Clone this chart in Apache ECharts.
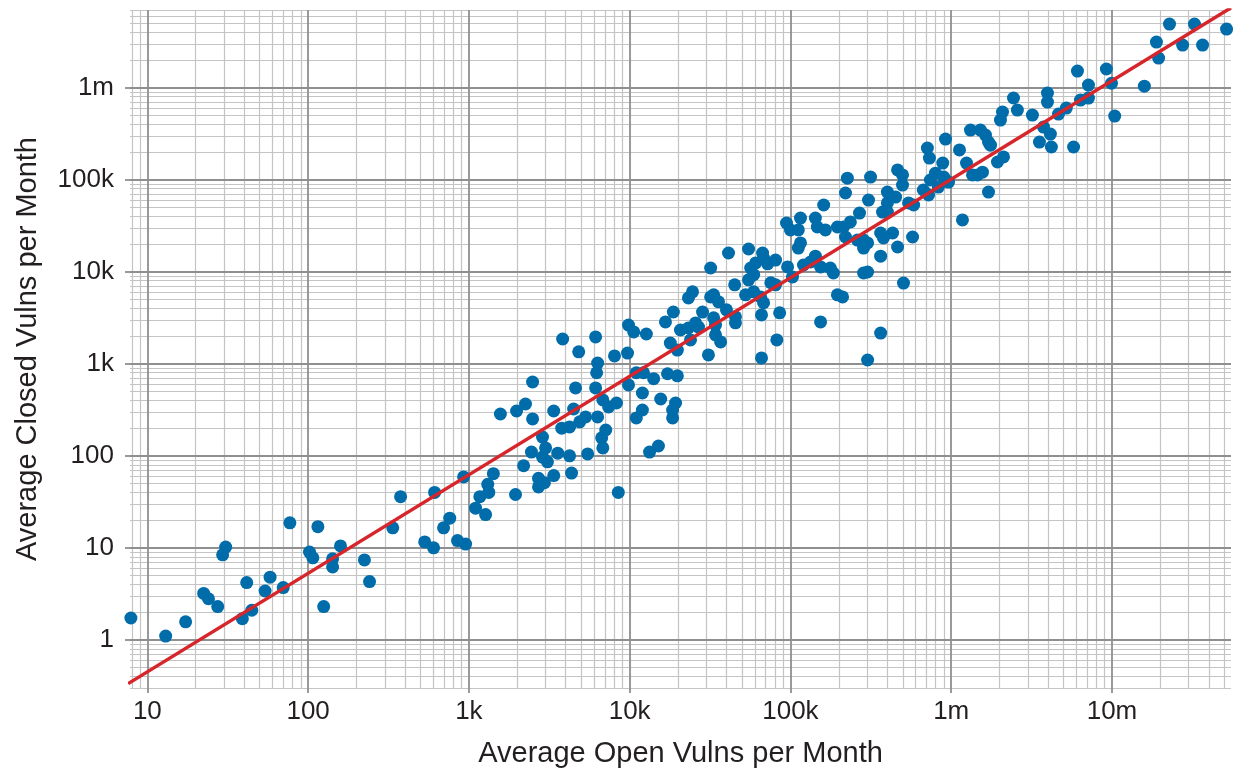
<!DOCTYPE html>
<html>
  <head>
    <title>Open vs Closed Vulns</title>
    <meta charset="UTF-8" />
    <script src="https://cdn.jsdelivr.net/npm/echarts@6/dist/echarts.min.js"></script>
    <style>
      html, body { margin: 0; padding: 0; background: #fff; }
    </style>
  </head>
  <body>
    <div id="main"></div>
    <script>
      const width = 1233;
      const height = 771;
      const main = document.getElementById('main');
      main.style.width = `${width}px`;
      main.style.height = `${height}px`;

      // [average open vulns, average closed vulns] per org
      const pointsUnder1k = [
        [7.9, 1.73], [13, 1.1], [17.3, 1.57], [22.4, 3.2], [24, 2.8], [27.4, 2.3], [29.4, 8.4],
        [30.7, 10.2], [39, 1.7], [41.5, 4.2], [44.6, 2.1], [54, 3.4], [58, 4.8], [70, 3.7],
        [77, 18.7], [102, 9], [107, 7.8], [115, 17], [125, 2.3], [142, 7.6], [142, 6.2],
        [159, 10.5], [224, 7.4], [241, 4.3], [336, 16.5], [376, 36], [531, 11.6], [603, 10],
        [612, 40], [696, 16.5], [760, 21], [850, 12], [954, 11], [927, 59]
      ];
      const points1kTo10k = [
        [1100, 27], [1170, 36], [1270, 23], [1310, 49], [1330, 40], [1420, 64], [1570, 285],
        [1950, 38], [1980, 307], [2190, 78], [2250, 366], [2450, 110], [2490, 252], [2490, 635],
        [2710, 57], [2710, 46], [2870, 160], [2950, 51], [3000, 122], [2870, 97], [3080, 86],
        [3370, 61], [3570, 107], [3370, 307], [3830, 1860], [3780, 200], [4230, 100], [4350, 65],
        [4230, 206], [4480, 323], [4610, 547], [4820, 1350], [4890, 234], [5320, 265], [5480, 105],
        [6140, 1960], [6230, 800], [6320, 1020], [6140, 547], [6320, 265], [6700, 157], [6810, 122],
        [7100, 191], [6810, 405], [7400, 340], [8280, 375], [8050, 1220], [8500, 40], [9700, 1310],
        [9840, 590], [9840, 2640]
      ];
      const points10kTo100k = [
        [10600, 2220], [11000, 800], [11000, 258], [12000, 315], [12000, 482], [12700, 2110],
        [12200, 800], [13300, 110], [15100, 128], [14100, 690], [15600, 415], [16700, 2850],
        [17900, 1680], [17200, 780], [19800, 740], [19300, 375], [18500, 315], [18500, 258],
        [18700, 3660], [20700, 2330], [19800, 1410], [23200, 2450], [25700, 2780], [26800, 2510],
        [23900, 1820], [23200, 5200], [24600, 6060], [28400, 3650], [31900, 11000], [30900, 1250],
        [31900, 5340], [33300, 5620], [33300, 3160], [34200, 2640], [34200, 2060], [36800, 1730],
        [35700, 4720], [40000, 3860], [41200, 16000], [45000, 7220], [45500, 3240], [45500, 2790],
        [54900, 17700], [56600, 11000], [59100, 9300], [60800, 12500], [67100, 16000],
        [68100, 14100], [72100, 12200], [80800, 13400], [54900, 8180], [52600, 5620],
        [59100, 6060], [65300, 5340], [68100, 4610], [75500, 7600], [80800, 7220], [66100, 3400],
        [85700, 3580], [82300, 1820], [66100, 1160], [94500, 33900], [96000, 11300]
      ];
      const points100kTo1m = [
        [100000, 28500], [115500, 38400], [112000, 28500], [103000, 8780], [115500, 20600],
        [112000, 18100], [120600, 11850], [133400, 12800], [143000, 38400], [147000, 30700],
        [143000, 14800], [154000, 2850], [161000, 53200], [165000, 28500], [154000, 11300],
        [177000, 11000], [185000, 9700], [196000, 5620], [211000, 5340], [196000, 30700],
        [214000, 30700], [236000, 34800], [226000, 104000], [220000, 71800], [220000, 23900],
        [269000, 43500], [261000, 22100], [285000, 22100], [285000, 18100], [302000, 20600],
        [285000, 9700], [302000, 9950], [306000, 60200], [315000, 107000], [302000, 1100],
        [364000, 26400], [374000, 44600], [364000, 14800], [364000, 2160], [401000, 73600],
        [401000, 56000], [451000, 64900], [401000, 44600], [379000, 23300], [432000, 26400],
        [464000, 18600], [464000, 128000], [498000, 113000], [498000, 87700], [505000, 7550],
        [543000, 56000], [584000, 53200], [575000, 23900], [711000, 221000], [732000, 172000],
        [671000, 77400], [723000, 68300], [742000, 99400], [798000, 118000], [832000, 83400],
        [886000, 152000], [899000, 107000], [963000, 94500], [922000, 277000]
      ];
      const pointsOver1m = [
        [1126000, 211000], [1175000, 36600], [1245000, 152000], [1357000, 113000],
        [1457000, 113000], [1565000, 121000], [1706000, 73600], [1318000, 347000],
        [1520000, 347000], [1634000, 306000], [1706000, 257000], [1756000, 238000],
        [1940000, 156000], [2115000, 177000], [2025000, 446000], [2085000, 544000],
        [2440000, 774000], [2580000, 572000], [3200000, 505000], [3540000, 257000],
        [3750000, 374000], [4140000, 314000], [4200000, 227000], [3970000, 876000],
        [3970000, 699000], [4650000, 518000], [5200000, 602000], [5770000, 227000],
        [6100000, 1520000], [6370000, 735000], [7140000, 773000], [7140000, 1070000],
        [9230000, 1600000], [9930000, 1120000], [10400000, 493000], [15900000, 1040000],
        [18900000, 3140000], [19500000, 2100000], [22800000, 4920000], [27500000, 2910000],
        [32600000, 4920000], [36600000, 2910000], [51600000, 4340000]
      ];
      // red trend line, two ends
      const fitLine = [[7.6, 0.335], [5.5e7, 7.4e6]];

      const xMajor = [10, 100, 1e3, 1e4, 1e5, 1e6, 1e7];
      const xTickLabels = ['10', '100', '1k', '10k', '100k', '1m', '10m'];
      const xMinor = [8, 9, 20, 30, 40, 50, 60, 70, 80, 90, 200, 300, 400, 500, 600, 700, 800, 900,
        2e3, 3e3, 4e3, 5e3, 6e3, 7e3, 8e3, 9e3, 2e4, 3e4, 4e4, 5e4, 6e4, 7e4, 8e4, 9e4,
        2e5, 3e5, 4e5, 5e5, 6e5, 7e5, 8e5, 9e5, 2e6, 3e6, 4e6, 5e6, 6e6, 7e6, 8e6, 9e6,
        2e7, 3e7, 4e7, 5e7];
      const yMajor = [1, 10, 100, 1e3, 1e4, 1e5, 1e6];
      const yTickLabels = ['1', '10', '100', '1k', '10k', '100k', '1m'];
      const yMinor = [0.3, 0.4, 0.5, 0.6, 0.7, 0.8, 0.9, 2, 3, 4, 5, 6, 7, 8, 9,
        20, 30, 40, 50, 60, 70, 80, 90, 200, 300, 400, 500, 600, 700, 800, 900,
        2e3, 3e3, 4e3, 5e3, 6e3, 7e3, 8e3, 9e3, 2e4, 3e4, 4e4, 5e4, 6e4, 7e4, 8e4, 9e4,
        2e5, 3e5, 4e5, 5e5, 6e5, 7e5, 8e5, 9e5, 2e6, 3e6, 4e6, 5e6, 6e6, 7e6];

      const xMin = 7.8, xMax = 5.5e7;
      const yMin = 0.3, yMax = 7e6;

      const font = "'Liberation Sans', Arial, Helvetica, sans-serif";
      const textColor = '#231f20';
      const majorLine = { color: '#8f8f8f', width: 1.8 };
      const minorLine = { color: '#c4c4c4', width: 1.2 };

      const myChart = echarts.init(main);
      const option = {
        animation: false,
        backgroundColor: '#fff',
        grid: {
          left: 130,
          right: 2,
          top: 10,
          bottom: 83,
          containLabel: false,
          outerBoundsMode: 'none'
        },
        xAxis: [
          {
            type: 'log',
            logBase: 10,
            min: xMin,
            max: xMax,
            z: 2,
            name: 'Average Open Vulns per Month',
            nameLocation: 'middle',
            nameGap: 51,
            nameTextStyle: { fontFamily: font, fontSize: 29, color: textColor },
            axisLine: { show: false },
            axisTick: { show: true, length: 5, customValues: xMajor, lineStyle: majorLine },
            axisLabel: {
              customValues: xMajor,
              margin: 11,
              fontFamily: font,
              fontSize: 26,
              color: textColor,
              formatter: v => xTickLabels[Math.round(Math.log10(v)) - 1]
            },
            splitLine: { show: true, lineStyle: majorLine }
          },
          {
            type: 'log',
            logBase: 10,
            min: xMin,
            max: xMax,
            z: 1,
            axisLine: { show: false },
            axisTick: { show: false, customValues: xMinor },
            axisLabel: { show: false },
            splitLine: { show: true, lineStyle: minorLine }
          }
        ],
        yAxis: [
          {
            type: 'log',
            logBase: 10,
            min: yMin,
            max: yMax,
            z: 2,
            name: 'Average Closed Vulns per Month',
            nameLocation: 'middle',
            nameGap: 88,
            nameTextStyle: { fontFamily: font, fontSize: 29, color: textColor },
            axisLine: { show: false },
            axisTick: { show: true, length: 5, customValues: yMajor, lineStyle: majorLine },
            axisLabel: {
              customValues: yMajor,
              margin: 16,
              fontFamily: font,
              fontSize: 26,
              color: textColor,
              formatter: v => yTickLabels[Math.round(Math.log10(v))]
            },
            splitLine: { show: true, lineStyle: majorLine }
          },
          {
            type: 'log',
            logBase: 10,
            min: yMin,
            max: yMax,
            z: 1,
            axisLine: { show: false },
            axisTick: { show: false, customValues: yMinor },
            axisLabel: { show: false },
            splitLine: { show: true, lineStyle: minorLine }
          }
        ],
        series: [
          {
            name: 'orgs',
            type: 'scatter',
            xAxisIndex: 0,
            yAxisIndex: 0,
            symbol: 'circle',
            symbolSize: 13,
            itemStyle: { color: '#006caa', opacity: 1 },
            z: 3,
            data: [].concat(pointsUnder1k, points1kTo10k, points10kTo100k, points100kTo1m, pointsOver1m)
          },
          {
            name: 'trend',
            type: 'line',
            xAxisIndex: 0,
            yAxisIndex: 0,
            showSymbol: false,
            symbol: 'none',
            clip: true,
            lineStyle: { color: '#d7262b', width: 3.5 },
            z: 4,
            data: fitLine
          }
        ]
      };
      myChart.setOption(option);
    </script>
  </body>
</html>
